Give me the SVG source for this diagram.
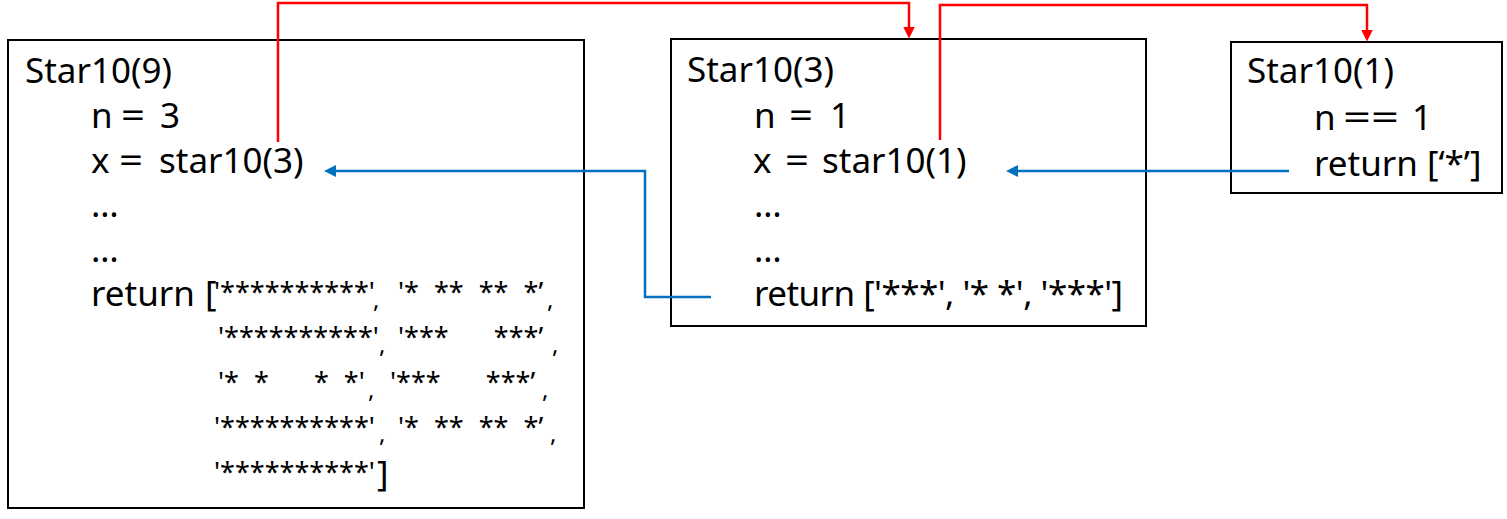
<svg xmlns="http://www.w3.org/2000/svg" width="1507" height="519" viewBox="0 0 1507 519">
<style>
.box{fill:#fff;stroke:#000;stroke-width:2}
.t{font-family:"Noto Sans","Open Sans","Liberation Sans",sans-serif;font-size:35px;fill:#000}
.s{font-family:"Noto Sans","Open Sans","Liberation Sans",sans-serif;font-size:27px;word-spacing:8px;white-space:pre;fill:#000}
.c{font-family:"Noto Sans","Open Sans","Liberation Sans",sans-serif;font-size:24px;fill:#000}
.red{fill:none;stroke:#FF0000;stroke-width:2.5}
.blue{fill:none;stroke:#0070C0;stroke-width:2.5}
</style>
<defs>
<marker id="ar" markerUnits="userSpaceOnUse" markerWidth="12" markerHeight="12" refX="2" refY="6" orient="auto"><path d="M0,0 L12,6 L0,12 z" fill="#FF0000"/></marker>
<marker id="ab" markerUnits="userSpaceOnUse" markerWidth="12" markerHeight="12" refX="2" refY="6" orient="auto"><path d="M0,0 L12,6 L0,12 z" fill="#0070C0"/></marker>
</defs>
<g id="star10-9">
<rect class="box" x="8" y="40" width="576" height="468"/>
<text class="t" x="25" y="83">Star10(9)</text>
<text class="t" y="128"><tspan x="91">n</tspan><tspan x="121" textLength="24" lengthAdjust="spacingAndGlyphs">=</tspan><tspan x="160">3</tspan></text>
<text class="t" y="173"><tspan x="91">x</tspan><tspan x="119" textLength="24" lengthAdjust="spacingAndGlyphs">=</tspan><tspan x="159">star10(3)</tspan></text>
<text class="t" x="91" y="217">…</text>
<text class="t" x="91" y="262">…</text>
<text class="t" y="306"><tspan x="91">return</tspan><tspan x="205">[</tspan></text>
<text class="s" y="302"><tspan x="214">'**********'</tspan><tspan x="398">'* ** ** *’</tspan></text>
<text class="c" y="308"><tspan x="373">,</tspan><tspan x="547">,</tspan></text>
<text class="s" y="347"><tspan x="218">'**********'</tspan><tspan x="398">'***   ***’</tspan></text>
<text class="c" y="353"><tspan x="379">,</tspan><tspan x="552">,</tspan></text>
<text class="s" y="392"><tspan x="218">'* *   * *'</tspan><tspan x="390">'***   ***’</tspan></text>
<text class="c" y="398"><tspan x="368">,</tspan><tspan x="542">,</tspan></text>
<text class="s" y="437"><tspan x="214">'**********'</tspan><tspan x="398">'* ** ** *’</tspan></text>
<text class="c" y="442"><tspan x="379">,</tspan><tspan x="550">,</tspan></text>
<text class="s" x="214" y="482">'**********'</text>
<text class="t" x="377" y="486">]</text>
</g>
<g id="star10-3">
<rect class="box" x="671" y="39" width="475" height="287"/>
<text class="t" x="687" y="82">Star10(3)</text>
<text class="t" y="128"><tspan x="754">n</tspan><tspan x="789" textLength="24" lengthAdjust="spacingAndGlyphs">=</tspan><tspan x="830">1</tspan></text>
<text class="t" y="173"><tspan x="753">x</tspan><tspan x="785" textLength="24" lengthAdjust="spacingAndGlyphs">=</tspan><tspan x="822">star10(1)</tspan></text>
<text class="t" x="754" y="217">…</text>
<text class="t" x="754" y="262">…</text>
<text class="t" x="754" y="306" textLength="369" lengthAdjust="spacing">return ['***', '* *', '***']</text>
</g>
<g id="star10-1">
<rect class="box" x="1231" y="42" width="271" height="151"/>
<text class="t" x="1247" y="83">Star10(1)</text>
<text class="t" y="130"><tspan x="1314">n</tspan><tspan x="1343" textLength="56" lengthAdjust="spacingAndGlyphs">==</tspan><tspan x="1412">1</tspan></text>
<text class="t" x="1314" y="176">return [‘*’]</text>
</g>
<g id="connectors">
<path class="red" d="M278,142 V3 H909 V28.5" marker-end="url(#ar)"/>
<path class="red" d="M940,140 V5 H1367 V31.5" marker-end="url(#ar)"/>
<path class="blue" d="M1289,171 H1016" marker-end="url(#ab)"/>
<path class="blue" d="M711,297 H645 V171 H334" marker-end="url(#ab)"/>
</g>
</svg>
